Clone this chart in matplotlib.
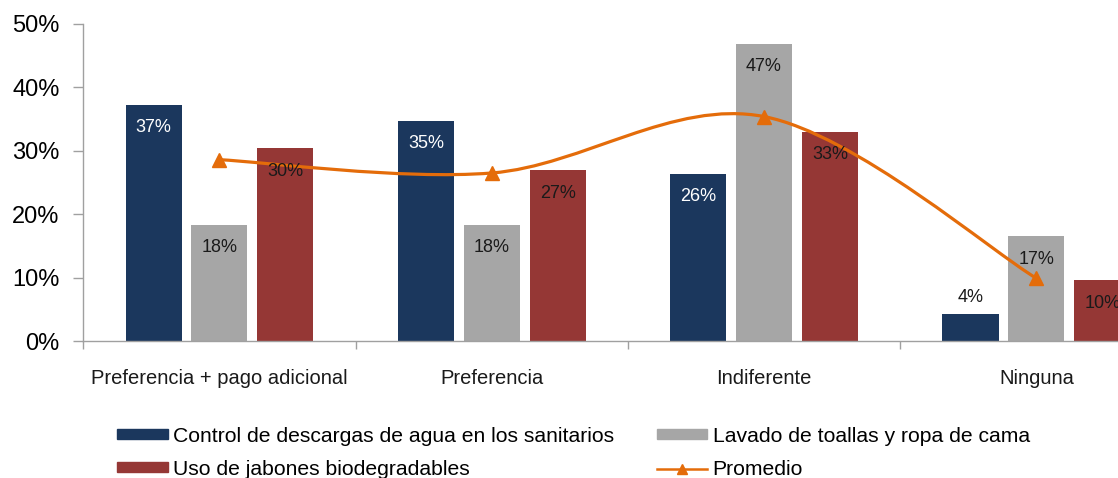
import matplotlib
matplotlib.use("Agg")
import matplotlib.pyplot as plt
from matplotlib.path import Path
from matplotlib.patches import PathPatch, Patch
from matplotlib.lines import Line2D
import numpy as np

plt.rcParams['font.family'] = ['Liberation Sans', 'DejaVu Sans']

categories = ["Preferencia + pago adicional", "Preferencia", "Indiferente", "Ninguna"]
series_names = ["Control de descargas de agua en los sanitarios",
                "Lavado de toallas y ropa de cama",
                "Uso de jabones biodegradables"]
control = [37.3, 34.7, 26.4, 4.3]
lavado = [18.3, 18.3, 46.9, 16.5]
jabones = [30.4, 26.9, 33.0, 9.6]
labels_control = ["37%", "35%", "26%", "4%"]
labels_lavado = ["18%", "18%", "47%", "17%"]
labels_jabones = ["30%", "27%", "33%", "10%"]
promedio = [28.6, 26.5, 35.4, 9.9]
yticks = [0, 10, 20, 30, 40, 50]
ytick_labels = ["0%", "10%", "20%", "30%", "40%", "50%"]

c_blue = "#1b375d"
c_gray = "#a6a6a6"
c_red = "#953735"
c_orange = "#e46c0a"

W, H = 1118, 478
fig = plt.figure(figsize=(W / 100, H / 100), dpi=100)
left_px, right_px = 83.3, 83.3 + 4 * 272.3
bottom_px, top_px = 341, 24
ax = fig.add_axes([left_px / W, 1 - bottom_px / H, (right_px - left_px) / W, (bottom_px - top_px) / H])

x = np.arange(len(categories))
bw = 0.206
off = 0.242
series = [(control, labels_control, c_blue, "white"),
          (lavado, labels_lavado, c_gray, "#1a1a1a"),
          (jabones, labels_jabones, c_red, "#1a1a1a")]
for i, (vals, labs, col, tcol) in enumerate(series):
    xs = x + (i - 1) * off
    ax.bar(xs, vals, width=bw, color=col, zorder=2)
    for xi, v, lab in zip(xs, vals, labs):
        if v < 8:
            ax.annotate(lab, (xi, v), xytext=(0, 12), textcoords="offset points",
                        ha="center", va="center", fontsize=13, color="#1a1a1a", zorder=5)
        else:
            ax.annotate(lab, (xi, v), xytext=(0, -16.5), textcoords="offset points",
                        ha="center", va="center", fontsize=13, color=tcol, zorder=5)

# smoothed average line (Bezier through points)
pts = np.column_stack([x.astype(float), np.array(promedio, dtype=float)])
verts = [tuple(pts[0])]
codes = [Path.MOVETO]
n = len(pts)
for k in range(n - 1):
    p0 = pts[k - 1] if k > 0 else pts[k]
    p1 = pts[k]
    p2 = pts[k + 1]
    p3 = pts[k + 2] if k + 2 < n else pts[k + 1]
    c1 = p1 + (p2 - p0) / 6.0
    c2 = p2 - (p3 - p1) / 6.0
    verts += [tuple(c1), tuple(c2), tuple(p2)]
    codes += [Path.CURVE4] * 3
ax.add_patch(PathPatch(Path(verts, codes), facecolor="none", edgecolor=c_orange,
                       lw=2.3, zorder=4, capstyle="round"))
ax.plot(x, promedio, linestyle="none", marker="^", markersize=10, color=c_orange, zorder=4)

ax.set_xlim(-0.5, 3.5)
ax.set_ylim(0, 50)
ax.set_yticks(yticks)
ax.set_yticklabels(ytick_labels, fontsize=17, color="black")
ax.set_xticks(x)
ax.set_xticklabels(categories, fontsize=14.5, color="#1a1a1a")
ax.set_xticks([-0.5, 0.5, 1.5, 2.5], minor=True)
ax.tick_params(axis="x", which="major", length=0, pad=20)
ax.tick_params(axis="x", which="minor", length=6, color="#a0a0a0", width=1, direction="out")
ax.tick_params(axis="y", length=7, color="#a0a0a0", width=1, pad=10)
for s in ["top", "right"]:
    ax.spines[s].set_visible(False)
for s in ["left", "bottom"]:
    ax.spines[s].set_color("#a0a0a0")
    ax.spines[s].set_linewidth(1)

handles = [Patch(color=c_blue), Patch(color=c_red), Patch(color=c_gray),
           Line2D([0], [0], color=c_orange, lw=1.8, marker="^", markersize=7)]
labels = [series_names[0], series_names[2], series_names[1], "Promedio"]
fig.legend(handles, labels, loc="upper left", bbox_to_anchor=(117 / W, 1 - 427 / H),
           ncol=2, frameon=False, fontsize=15.25, handlelength=2.4, handleheight=0.35,
           handletextpad=0.25, columnspacing=2.0, labelspacing=0.66,
           borderpad=0, borderaxespad=0)

fig.savefig("out.png", dpi=100)
